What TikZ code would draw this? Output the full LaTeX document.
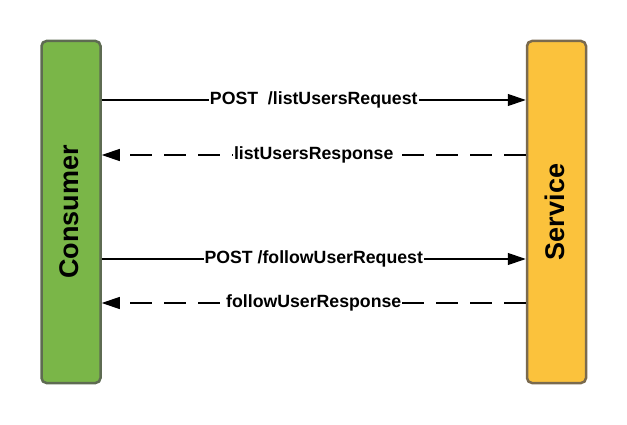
\documentclass[tikz,border=0pt]{standalone}
\usepackage{fontspec}
\setmainfont{Liberation Sans}
\usetikzlibrary{arrows.meta}
\definecolor{cgreen}{HTML}{7AB648}
\definecolor{cgreenb}{HTML}{5E6B52}
\definecolor{cyellow}{HTML}{FBC23C}
\definecolor{cyellowb}{HTML}{7A6A4E}
\begin{document}
\begin{tikzpicture}[x=1pt,y=-1pt,
  actor/.style={draw, line width=2.5pt, rounded corners=5pt, minimum width=59pt, minimum height=342pt, inner sep=0pt},
  actorlabel/.style={font=\bfseries\fontsize{27}{30}\selectfont, rotate=90},
  msg/.style={line width=1.2pt, -{Triangle[length=18pt,width=12pt]}},
  resp/.style={msg, dash pattern=on 22pt off 12pt},
  lbl/.style={fill=white, font=\bfseries\fontsize{17.7}{20}\selectfont, inner sep=1pt}]
\useasboundingbox (0,0) rectangle (627,425);
\node[actor, fill=cgreen, draw=cgreenb] (cons) at (71,212) {};
\node[actor, fill=cyellow, draw=cyellowb] (serv) at (556.5,212) {};
\node[actorlabel] (consl) at ([xshift=-2pt]cons.center) {Consumer};
\node[actorlabel] (servl) at ([xshift=-2pt]serv.center) {Service};
\coordinate (c1) at (cons.east |- 0,100);
\coordinate (s1) at (serv.west |- 0,100);
\coordinate (c2) at (cons.east |- 0,155);
\coordinate (s2) at (serv.west |- 0,155);
\coordinate (c3) at (cons.east |- 0,259);
\coordinate (s3) at (serv.west |- 0,259);
\coordinate (c4) at (cons.east |- 0,303);
\coordinate (s4) at (serv.west |- 0,303);
\draw[msg] (c1) -- node[lbl] (l1) {POST\ \ /listUsersRequest} (s1);
\draw[resp] (s2) -- node[lbl] (l2) {listUsersResponse} (c2);
\draw[msg] (c3) -- node[lbl] (l3) {POST /followUserRequest} (s3);
\draw[resp] (s4) -- node[lbl] (l4) {followUserResponse} (c4);
\end{tikzpicture}
\end{document}
